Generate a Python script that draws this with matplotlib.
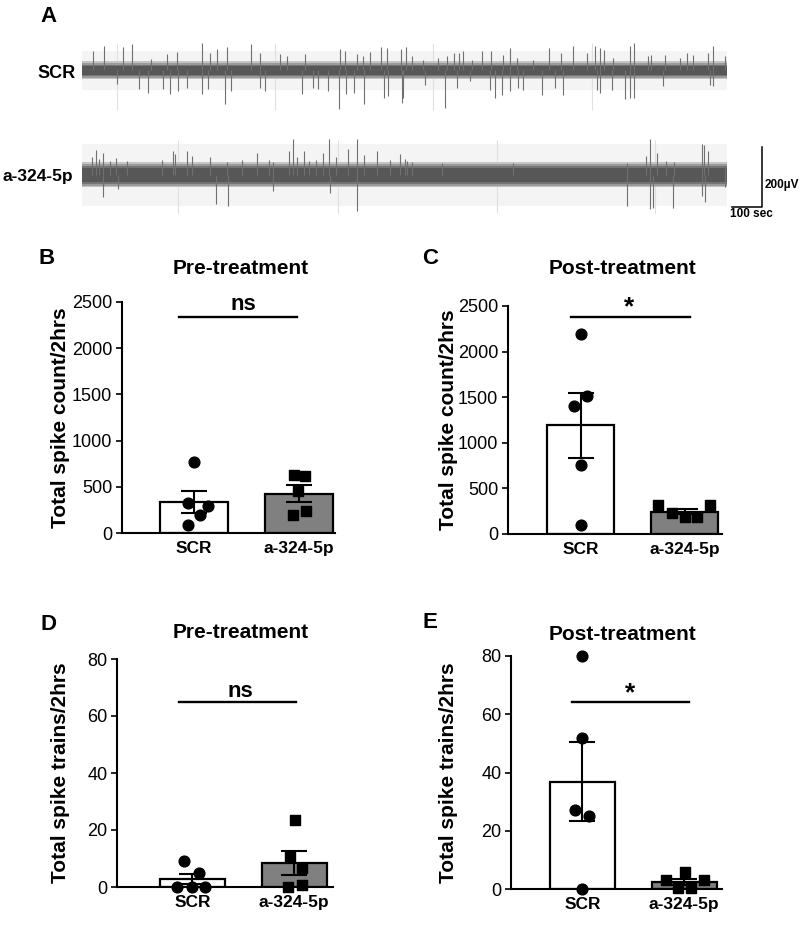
import numpy as np
import matplotlib
matplotlib.use('Agg')
import matplotlib.pyplot as plt

plt.rcParams['font.family'] = ['Liberation Sans', 'DejaVu Sans']

W, H = 800, 925  # figure size in pixels

groups = ['SCR', 'a-324-5p']

scr_up_t = [38, 73, 135, 165, 229, 284, 318, 399, 426, 451, 482, 562, 593, 659, 682, 743, 859, 876,
            915, 937, 959, 998, 1015, 1064, 1081, 1099, 1138, 1188, 1215, 1240, 1258, 1271, 1299,
            1332, 1362, 1402, 1426, 1449, 1504, 1557, 1595, 1637, 1682, 1709, 1726, 1739, 1770,
            1826, 1840, 1887, 1898, 1942, 1992, 2017, 2037, 2087, 2103, 2142]
scr_up_amp = [64, 81, 78, 87, 37, 53, 62, 92, 59, 70, 78, 89, 59, 56, 48, 56, 70, 64,
              53, 48, 62, 78, 75, 70, 78, 47, 36, 41, 47, 58, 58, 63, 36,
              63, 63, 52, 74, 41, 36, 74, 58, 80, 58, 80, 74, 69, 41,
              80, 91, 47, 52, 52, 41, 58, 52, 58, 80, 47]
scr_dn_t = [115, 191, 221, 271, 293, 321, 349, 399, 421, 476, 498, 593, 610, 732, 771, 787, 820,
            857, 881, 906, 939, 1006, 1020, 1066, 1071, 1143, 1210, 1249, 1293, 1360, 1376, 1399,
            1426, 1454, 1471, 1532, 1576, 1604, 1715, 1726, 1765, 1811, 1826, 1839, 1937, 2092, 2103]
scr_dn_amp = [47, 63, 74, 63, 80, 69, 58, 80, 63, 113, 69, 58, 69, 80, 58, 63, 69,
              130, 80, 74, 113, 91, 86, 108, 92, 48, 124, 59, 37, 64, 92, 81,
              70, 59, 64, 81, 59, 81, 64, 75, 64, 97, 92, 92, 53, 48, 53]

a324_up_t = [32, 47, 58, 69, 93, 113, 149, 265, 302, 310, 351, 365, 426, 482, 532, 582, 624, 637,
             690, 702, 715, 739, 757, 779, 804, 824, 848, 887, 915, 939, 983, 1026, 1061, 1076,
             1082, 1099, 1199, 1437, 1815, 1879, 1893, 1917, 1948, 1972, 2065, 2072, 2087, 2142]
a324_up_amp = [58, 82, 52, 74, 47, 56, 47, 49, 78, 71, 78, 63, 58, 44, 49, 74, 49, 44,
               80, 119, 58, 78, 47, 49, 74, 119, 58, 86, 119, 67, 80, 49, 69, 52,
               47, 44, 41, 38, 41, 63, 119, 74, 47, 44, 104, 100, 80, 30]
a324_dn_t = [69, 121, 448, 487, 637, 826, 915, 1815, 1893, 1904, 1970, 2065, 2076, 2142]
a324_dn_amp = [73, 48, 98, 103, 53, 62, 122, 103, 114, 109, 111, 70, 92, 42]

scr_grid_t = [117, 643, 1170, 1700]
a324_grid_t = [320, 853, 1383, 1910]

# ---- panels B-E: individual animals
pre_count_scr = [770, 325, 295, 190, 85]
pre_count_a324 = [625, 620, 450, 235, 190]
post_count_scr = [2195, 1510, 1405, 755, 100]
post_count_a324 = [318, 318, 227, 183, 183]
pre_train_scr = [9, 5, 0, 0, 0]
pre_train_a324 = [23.6, 10.7, 6.7, 0.8, 0]
post_train_scr = [80, 52, 27, 25, 0]
post_train_a324 = [6, 3, 3, 0.3, 0.3]

# horizontal scatter of the dots inside each bar
jit_pre_count = ([0, -0.06, 0.13, 0.06, -0.06], [-0.05, 0.06, -0.01, 0.07, -0.06])
jit_post_count = ([0, 0.06, -0.06, 0, 0], [-0.26, 0.24, -0.12, 0, 0.12])
jit_pre_train = ([-0.08, 0.06, -0.15, 0, 0.12], [0.01, -0.04, 0.08, 0.08, -0.06])
jit_post_train = ([0, 0, -0.07, 0.07, 0], [0.01, -0.18, 0.19, -0.06, 0.07])


def px_axes(fig, left, top, right, bottom):
    return fig.add_axes([left / W, 1 - bottom / H, (right - left) / W, (bottom - top) / H])


def ftext(fig, x, y, s, **kw):
    fig.text(x / W, 1 - y / H, s, **kw)


fig = plt.figure(figsize=(W / 100, H / 100), dpi=100)

# ================= A =================
axA = px_axes(fig, 82, 38, 775, 218)
axA.set_xlim(0, 2310)
axA.set_ylim(-492, 108)
axA.axis('off')
T_END = 2150
offsets = [0, -348]
bg_half = [64, 103]
# noise band drawn as layers, widest/lightest first
band_layers = [[30, 24, 19, 14], [42, 36, 30, 24]]
band_cols = ['#c4c4c4', '#9a9a9a', '#747474', '#575757']
grid_span = [(92, -132), (117, -127)]
traces = [(scr_up_t, scr_up_amp, scr_dn_t, scr_dn_amp, scr_grid_t),
          (a324_up_t, a324_up_amp, a324_dn_t, a324_dn_amp, a324_grid_t)]
for i, (ut, ua, dt, da, gt) in enumerate(traces):
    y0 = offsets[i]
    axA.fill_between([0, T_END], y0 - bg_half[i], y0 + bg_half[i], color='#f4f4f4', lw=0, zorder=0)
    axA.vlines(gt, y0 + grid_span[i][1], y0 + grid_span[i][0], color='#e0e0e0', lw=0.8, zorder=1)
    for hw, c in zip(band_layers[i], band_cols):
        axA.fill_between([0, T_END], y0 - hw, y0 + hw, color=c, lw=0, zorder=2)
    axA.vlines(ut, y0, y0 + np.array(ua), color='#707070', lw=0.8, zorder=4)
    axA.vlines(dt, y0 - np.array(da), y0, color='#707070', lw=0.8, zorder=4)

# scale bar
axA.plot([2167, 2267, 2267], [-455, -455, -255], color='k', lw=1.1, clip_on=False)
axA.text(2277, -382, '200µV', fontsize=8.5, fontweight='bold', va='center', ha='left')
axA.text(2160, -478, '100 sec', fontsize=8.5, fontweight='bold', va='center', ha='left',
         clip_on=False)

ftext(fig, 76, 73, 'SCR', fontsize=13, fontweight='bold', ha='right', va='center')
ftext(fig, 73, 177, 'a-324-5p', fontsize=12.5, fontweight='bold', ha='right', va='center')
ftext(fig, 40, 17, 'A', fontsize=16, fontweight='bold', ha='left', va='center')


# ================= B-E =================
def bar_panel(box, scr, a324, jit, ymax, step, ylabel, title, title_xy, letter_xy, letter,
              sig, sig_x, sig_y, sig_text_y, ylab_x, xlim):
    ax = px_axes(fig, *box)
    means = [np.mean(scr), np.mean(a324)]
    sems = [np.std(scr, ddof=1) / np.sqrt(len(scr)), np.std(a324, ddof=1) / np.sqrt(len(a324))]
    ax.bar([0, 1], means, width=0.64, color=['white', '#808080'], edgecolor='k', linewidth=1.6,
           zorder=2)
    ax.scatter(np.array(jit[0]), scr, s=60, marker='o', color='k', zorder=3, clip_on=False)
    ax.scatter(1 + np.array(jit[1]), a324, s=52, marker='s', color='k', zorder=3, clip_on=False)
    ax.errorbar([0, 1], means, yerr=sems, fmt='none', ecolor='k', elinewidth=1.5, capsize=9.5,
                capthick=1.5, zorder=4)
    ax.set_xlim(*xlim)
    ax.set_ylim(0, ymax)
    ax.set_yticks(np.arange(0, ymax + 1, step))
    ax.set_xticks([0, 1])
    ax.set_xticklabels(groups, fontweight='bold', fontsize=12.5)
    ax.tick_params(axis='x', length=0, pad=6)
    ax.tick_params(axis='y', direction='out', length=4.5, width=1.2, labelsize=13, pad=2.5)
    for s in ['top', 'right']:
        ax.spines[s].set_visible(False)
    for s in ['left', 'bottom']:
        ax.spines[s].set_linewidth(1.5)
    ax.plot(sig_x, [sig_y, sig_y], color='k', lw=1.7, clip_on=False)
    ax.text(0.47, sig_text_y, sig, fontsize=16 if sig == 'ns' else 19, fontweight='bold',
            ha='center', va='center', clip_on=False)
    top, bottom = box[1], box[3]
    ftext(fig, ylab_x, (top + bottom) / 2, ylabel, fontsize=15, fontweight='bold',
          rotation=90, ha='center', va='center')
    ftext(fig, title_xy[0], title_xy[1], title, fontsize=15, fontweight='bold',
          ha='center', va='center')
    ftext(fig, letter_xy[0], letter_xy[1], letter, fontsize=16, fontweight='bold',
          ha='left', va='center')
    return ax


bar_panel((122, 302, 335, 533), pre_count_scr, pre_count_a324, jit_pre_count, 2500, 500,
          'Total spike count/2hrs', 'Pre-treatment', (241, 269), (39, 258), 'B',
          'ns', [-0.14, 0.98], 2333, 2470, 60, (-0.686, 1.343))
bar_panel((508, 306, 722, 534), post_count_scr, post_count_a324, jit_post_count, 2500, 500,
          'Total spike count/2hrs', 'Post-treatment', (623, 269), (422, 258), 'C',
          '*', [-0.09, 1.05], 2376, 2490, 448, (-0.70, 1.36))
bar_panel((117, 659, 333, 887), pre_train_scr, pre_train_a324, jit_pre_train, 80, 20,
          'Total spike trains/2hrs', 'Pre-treatment', (241, 633), (40, 625), 'D',
          'ns', [-0.13, 1.02], 64.8, 68.5, 60, (-0.74, 1.38))
bar_panel((511, 656, 722, 889), post_train_scr, post_train_a324, jit_post_train, 80, 20,
          'Total spike trains/2hrs', 'Post-treatment', (623, 635), (422, 623), 'E',
          '*', [-0.10, 1.05], 64.1, 67.2, 449, (-0.70, 1.37))

fig.savefig('out.png', dpi=100)
